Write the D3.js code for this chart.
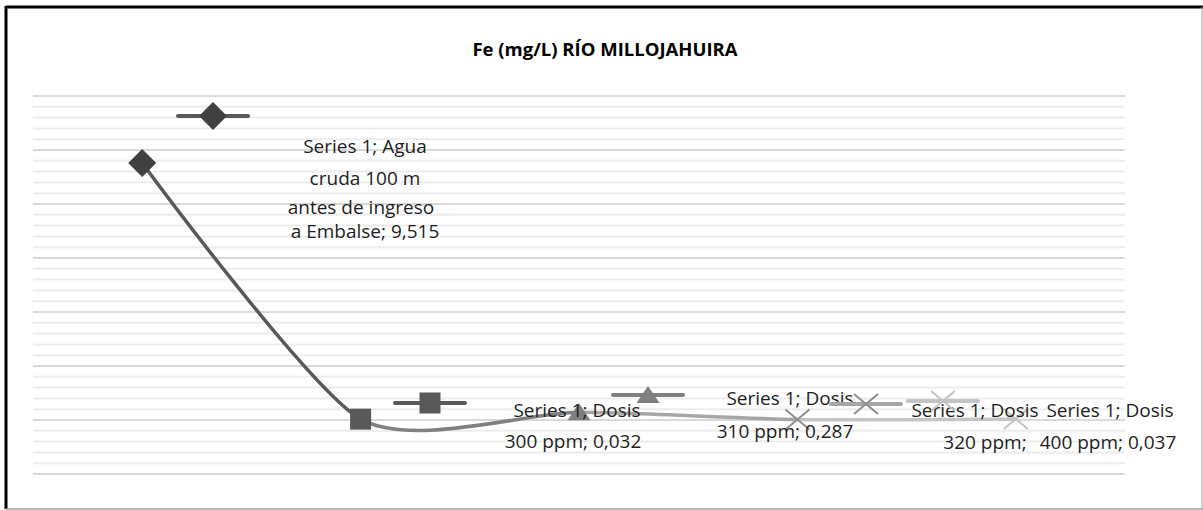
<!DOCTYPE html>
<html>
<head>
<meta charset="utf-8">
<script src="https://cdn.jsdelivr.net/npm/d3@7/dist/d3.min.js"></script>
<style>
  body { margin: 0; background: #fff; }
  svg text { font-family: 'Open Sans', Lato, sans-serif; }
</style>
</head>
<body>
<svg id="chart" width="1203" height="510"></svg>
<script>
// data
const categories = [
  'Agua cruda 100 m antes de ingreso a Embalse',
  'Dosis 300 ppm',
  'Dosis 310 ppm',
  'Dosis 320 ppm',
  'Dosis 400 ppm'
];
const fe_values = [9.515, 0.032, 0.287, 0.02, 0.037];
const label_lines = [
  ['Series 1; Agua', 'cruda 100 m', 'antes de ingreso', 'a Embalse; 9,515'],
  ['Series 1; Dosis', '300 ppm; 0,032'],
  ['Series 1; Dosis', '310 ppm; 0,287'],
  ['Series 1; Dosis', '320 ppm;'],
  ['Series 1; Dosis', '400 ppm; 0,037']
];
const y_domain = [-2, 12];
const title_text = 'Fe (mg/L) RÍO MILLOJAHUIRA';

// styling / layout
const point_colors = ['#404040', '#595959', '#7f7f7f', '#8f8f8f', '#c4c4c4'];
const line_colors = ['#595959', '#595959', '#808080', '#a6a6a6', '#c4c4c4'];
const marker_types = ['diamond', 'square', 'triangle', 'x', 'x'];
// data label boxes: key centre and text line positions
const label_key_pos = [[213, 116], [430, 403], [648, 395], [866, 404], [943, 401]];
const label_text_pos = [
  [[365, 146], [365, 178], [361, 207], [365, 231]],
  [[577, 410], [573, 441]],
  [[790, 398], [785, 431]],
  [[975, 410], [985, 442]],
  [[1110, 410], [1108, 442]]
];

const svg = d3.select('#chart');
const plot = { left: 33, right: 1125, top: 96, bottom: 474 };

const x = d3.scalePoint().domain(categories).range([plot.left, plot.right]).padding(0.5);
const y = d3.scaleLinear().domain(y_domain).range([plot.bottom, plot.top]);

// border
svg.append('line').attr('x1', 6).attr('x2', 1203).attr('y1', 7).attr('y2', 7)
  .attr('stroke', '#000').attr('stroke-width', 3);
svg.append('line').attr('x1', 6).attr('x2', 6).attr('y1', 6).attr('y2', 509)
  .attr('stroke', '#000').attr('stroke-width', 3);
svg.append('line').attr('x1', 6).attr('x2', 1203).attr('y1', 509).attr('y2', 509)
  .attr('stroke', '#a0a0a0').attr('stroke-width', 1.5);
svg.append('line').attr('x1', 1202).attr('x2', 1202).attr('y1', 7).attr('y2', 509)
  .attr('stroke', '#a0a0a0').attr('stroke-width', 1);

// title
svg.append('text')
  .attr('x', 605).attr('y', 56)
  .attr('text-anchor', 'middle')
  .attr('font-size', 18.5).attr('font-weight', 'bold')
  .attr('fill', '#000')
  .text(title_text);

// gridlines
const minor = d3.range(y_domain[0], y_domain[1] + 0.001, 0.4).map(v => +v.toFixed(2));
svg.append('g').selectAll('line')
  .data(minor)
  .join('line')
  .attr('x1', plot.left).attr('x2', plot.right)
  .attr('y1', d => y(d)).attr('y2', d => y(d))
  .attr('stroke', d => Math.abs(d / 2 - Math.round(d / 2)) < 1e-6 ? '#d9d9d9' : '#ececec')
  .attr('stroke-width', 2);

// smoothed line, one colour per segment (clipped)
const pts = fe_values.map((v, i) => [x(categories[i]), y(v)]);
const line = d3.line().curve(d3.curveCardinal.tension(0.3));
const defs = svg.append('defs');
for (let i = 1; i < pts.length; i++) {
  defs.append('clipPath').attr('id', 'seg' + i)
    .append('rect')
    .attr('x', pts[i - 1][0]).attr('y', 0)
    .attr('width', pts[i][0] - pts[i - 1][0]).attr('height', 510);
  svg.append('path')
    .attr('d', line(pts))
    .attr('clip-path', `url(#seg${i})`)
    .attr('fill', 'none')
    .attr('stroke', line_colors[i])
    .attr('stroke-width', 3.5)
    .attr('stroke-linecap', 'round');
}

function draw_marker(g, type, cx, cy, color) {
  if (type === 'diamond') {
    g.append('path').attr('d', `M${cx},${cy - 14}L${cx + 14},${cy}L${cx},${cy + 14}L${cx - 14},${cy}Z`).attr('fill', color);
  } else if (type === 'square') {
    g.append('rect').attr('x', cx - 10.5).attr('y', cy - 10.5).attr('width', 21).attr('height', 21).attr('fill', color);
  } else if (type === 'triangle') {
    g.append('path').attr('d', `M${cx},${cy - 9}L${cx + 11.5},${cy + 8}L${cx - 11.5},${cy + 8}Z`).attr('fill', color);
  } else {
    g.append('path').attr('d', `M${cx - 12},${cy - 10}L${cx + 12},${cy + 10}M${cx - 12},${cy + 10}L${cx + 12},${cy - 10}`)
      .attr('stroke', color).attr('stroke-width', 2).attr('fill', 'none');
  }
}

// markers
const markers = svg.append('g');
fe_values.forEach((v, i) => {
  draw_marker(markers, marker_types[i], x(categories[i]), y(v), point_colors[i]);
});

// data labels with their legend keys
const labels = svg.append('g');
label_lines.forEach((lines, i) => {
  const [kx, ky] = label_key_pos[i];
  labels.append('line')
    .attr('x1', kx - 35).attr('x2', kx + 35).attr('y1', ky).attr('y2', ky)
    .attr('stroke', line_colors[i]).attr('stroke-width', 4).attr('stroke-linecap', 'round');
  draw_marker(labels, marker_types[i], kx, ky, point_colors[i]);
  lines.forEach((t, j) => {
    const [tx, ty] = label_text_pos[i][j];
    labels.append('text')
      .attr('x', tx).attr('y', ty)
      .attr('dy', '0.35em')
      .attr('text-anchor', 'middle')
      .attr('font-size', 19)
      .attr('fill', '#1e1e1e')
      .text(t);
  });
});
</script>
</body>
</html>
